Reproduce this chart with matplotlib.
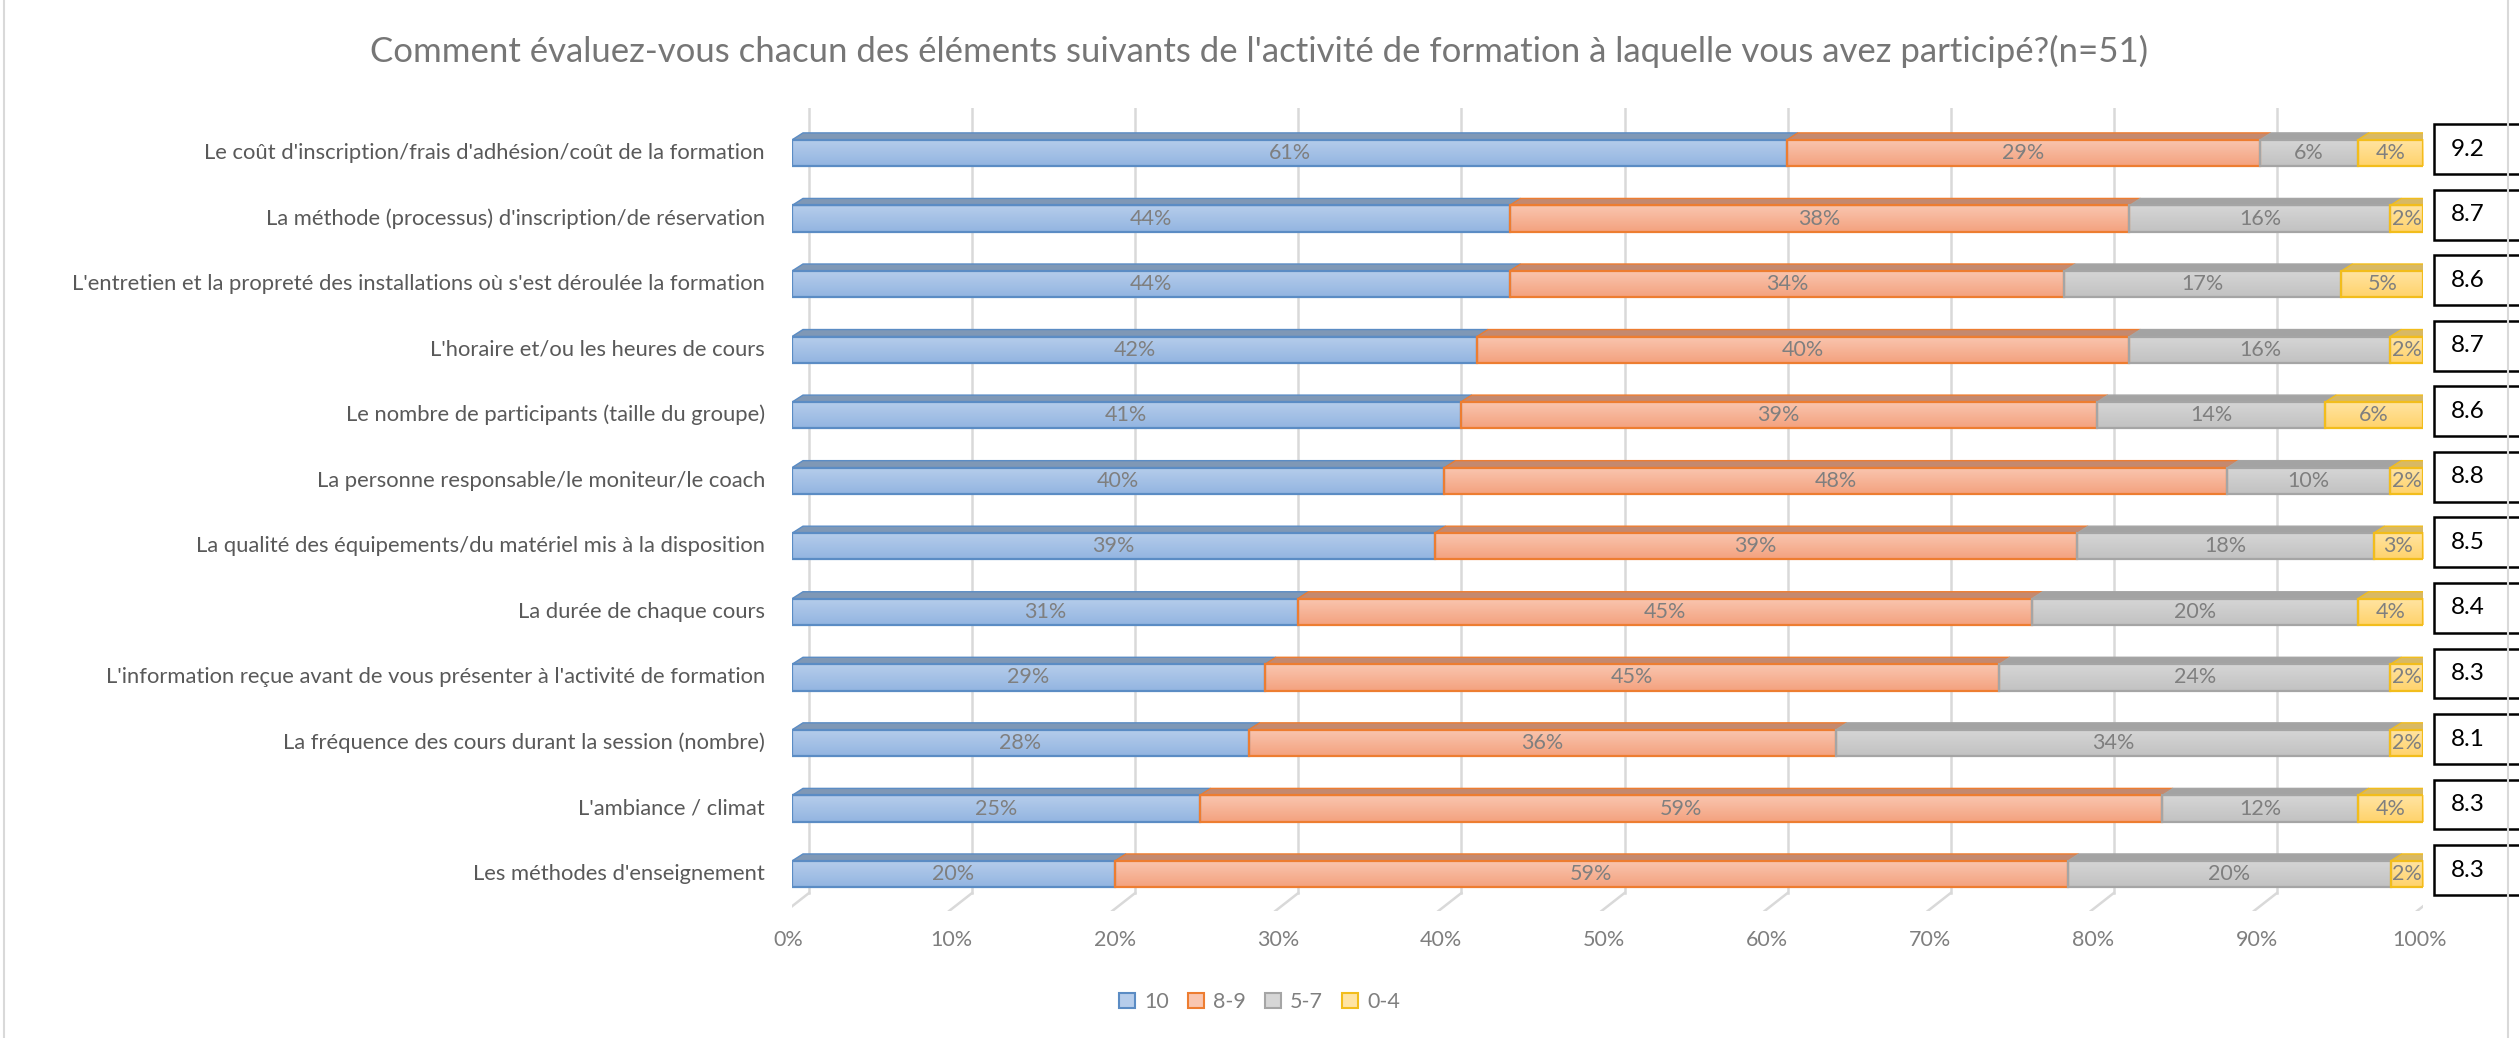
import numpy as np
import matplotlib
matplotlib.use("Agg")
import matplotlib.pyplot as plt
from matplotlib.patches import Polygon, Rectangle, Patch
from matplotlib.lines import Line2D

title = ("Comment évaluez-vous chacun des éléments suivants de l'activité "
         "de formation à laquelle vous avez participé?(n=51)")

categories = [
    "Le coût d'inscription/frais d'adhésion/coût de la formation",
    "La méthode (processus) d'inscription/de réservation",
    "L'entretien et la propreté des installations où s'est déroulée la formation",
    "L'horaire et/ou les heures de cours",
    "Le nombre de participants (taille du groupe)",
    "La personne responsable/le moniteur/le coach",
    "La qualité des équipements/du matériel mis à la disposition",
    "La durée de chaque cours",
    "L'information reçue avant de vous présenter à l'activité de formation",
    "La fréquence des cours durant la session (nombre)",
    "L'ambiance / climat",
    "Les méthodes d'enseignement",
]
series_names = ["10", "8-9", "5-7", "0-4"]
note_10 = [61, 44, 44, 42, 41, 40, 39, 31, 29, 28, 25, 20]
note_8_9 = [29, 38, 34, 40, 39, 48, 39, 45, 45, 36, 59, 59]
note_5_7 = [6, 16, 17, 16, 14, 10, 18, 20, 24, 34, 12, 20]
note_0_4 = [4, 2, 5, 2, 6, 2, 3, 4, 2, 2, 4, 2]
moyennes = ["9.2", "8.7", "8.6", "8.7", "8.6", "8.8", "8.5", "8.4", "8.3", "8.1", "8.3", "8.3"]

# (haut du degrade, bas du degrade, contour, dessus 3D)
styles = [
    ("#b6cdeb", "#93b5e1", "#5b8cc4", "#7f98b6"),
    ("#f9c6b0", "#f4a27f", "#ed7d31", "#c4896f"),
    ("#d6d6d6", "#c2c2c2", "#a5a5a5", "#a3a3a3"),
    ("#ffe4a3", "#ffd36c", "#f2bd1c", "#d8b964"),
]
side_color = "#a8925c"

plt.rcParams["font.family"] = ["Lato", "DejaVu Sans"]

W, H = 2519, 1038
fig = plt.figure(figsize=(W / 100, H / 100), dpi=100)

# zone de trace en pixels (face avant des barres)
x_left, x_right = 792, 2423
y_top, y_bot = 108, 911
ax = fig.add_axes([x_left / W, 1 - y_bot / H, (x_right - x_left) / W, (y_bot - y_top) / H])
px_x = (x_right - x_left) / 100.0
row_px = 65.55
row0 = 153
ylim_top = (y_top - row0) / row_px
ylim_bot = (y_bot - row0) / row_px

bar_h = 0.40
ddx = 11 / px_x
ddy = 7 / row_px

# quadrillage sur le plan arriere + pieds obliques
grid_col = "#d9d9d9"
back_dx = 17 / px_x
foot_dx = -6 / px_x
y_back = (893 - row0) / row_px
for t in range(0, 101, 10):
    ax.plot([t + back_dx, t + back_dx], [ylim_top, y_back], color=grid_col, lw=1.8, zorder=0)
    ax.plot([t + back_dx, t + foot_dx], [y_back, ylim_bot], color=grid_col, lw=1.8, zorder=0)
    ax.text(t - 0.2, (940 - row0) / row_px, f"{t}%", ha="center", va="center",
            fontsize=15.5, color="#7f7f7f")

vals = np.array([note_10, note_8_9, note_5_7, note_0_4], dtype=float)
pct = vals / vals.sum(axis=0) * 100
y = np.arange(len(categories))
left = np.zeros(len(categories))
n_series = len(series_names)

for i in range(n_series):
    c_top, c_bot, c_edge, c_face = styles[i]
    grad = np.array([matplotlib.colors.to_rgb(c_top), matplotlib.colors.to_rgb(c_bot)])
    grad = np.linspace(grad[0], grad[1], 32)[:, None, :]
    bars = ax.barh(y, pct[i], left=left, height=bar_h, facecolor="none",
                   edgecolor=c_edge, linewidth=1.6, zorder=3)
    for b, v in zip(bars, vals[i]):
        x0, y0, w, h = b.get_x(), b.get_y(), b.get_width(), b.get_height()
        ax.imshow(grad, extent=(x0, x0 + w, y0 + h, y0), origin="upper",
                  aspect="auto", interpolation="bilinear", zorder=2)
        ax.add_patch(Polygon([(x0, y0), (x0 + ddx, y0 - ddy), (x0 + w + ddx, y0 - ddy), (x0 + w, y0)],
                             closed=True, facecolor=c_face, edgecolor=c_edge, lw=1.0, zorder=2.5))
        if i == n_series - 1:
            x1 = x0 + w
            ax.add_patch(Polygon([(x1, y0), (x1 + ddx, y0 - ddy), (x1 + ddx, y0 + h - ddy), (x1, y0 + h)],
                                 closed=True, facecolor=side_color, edgecolor=c_edge, lw=1.0, zorder=2.5))
        ax.text(x0 + w / 2, y0 + h / 2, f"{int(v)}%", ha="center", va="center",
                fontsize=15.5, color="#7f7f7f", zorder=5)
    left += pct[i]

# libelles des categories
for yi, cat in zip(y, categories):
    ax.text((765 - x_left) / px_x, yi, cat, ha="right", va="center", fontsize=15.8, color="#595959")

# cases des moyennes
box_x = (2434 - x_left) / px_x
for yi, m in zip(y, moyennes):
    ax.add_patch(Rectangle((box_x, yi - 0.06 - 0.38), 20, 0.76, facecolor="white",
                           edgecolor="black", lw=1.8, clip_on=False, zorder=4))
    ax.text((2468 - x_left) / px_x, yi - 0.06, m, ha="center", va="center",
            fontsize=17.5, color="black", zorder=5)

ax.set_xlim(0, 100)
ax.set_ylim(ylim_bot, ylim_top)
ax.axis("off")

fig.text(0.5, 1 - 51 / H, title, ha="center", va="center", fontsize=25, color="#767676")

handles = [Patch(facecolor=s[0], edgecolor=s[2], lw=1.5) for s in styles]
fig.legend(handles, series_names, loc="center", bbox_to_anchor=(0.5, 1 - 1002 / H),
           ncol=4, frameon=False, fontsize=15.5, labelcolor="#7f7f7f",
           handlelength=0.75, handleheight=0.75, handletextpad=0.4, columnspacing=0.9)

# bordures de la zone graphique
fig.add_artist(Line2D([4 / W, 4 / W], [0, 1], color="#d9d9d9", lw=1.5))
fig.add_artist(Line2D([2508 / W, 2508 / W], [0, 1], color="#d9d9d9", lw=1.5))

fig.savefig("out.png", dpi=100, facecolor="white")
